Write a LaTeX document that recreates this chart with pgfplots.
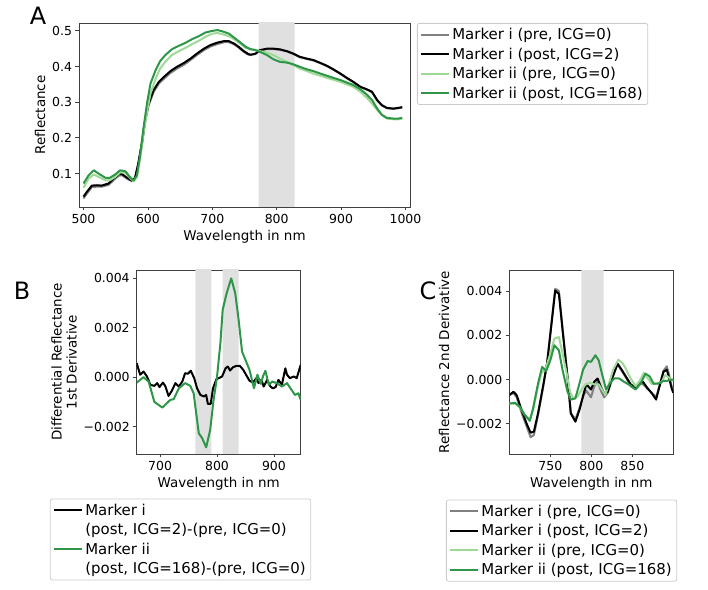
\documentclass[border=0pt]{standalone}
\usepackage{fontspec}
\setmainfont{DejaVu Sans}
\usepackage{pgfplots}
\pgfplotsset{compat=1.18}

\definecolor{lgreen}{RGB}{158,218,150}
\definecolor{dgreen}{RGB}{46,150,72}
\definecolor{bandgray}{RGB}{224,224,224}

\pgfplotsset{
  panel/.style={
    scale only axis,
    axis line style={black!75, line width=0.8bp},
    tick align=outside, tick pos=left,
    major tick length=3.5bp,
    tick style={black!75, line width=0.8bp},
    /pgf/number format/assume math mode=true,
    tick label style={font=\fontsize{12.5}{14}\selectfont},
    label style={font=\fontsize{13.5}{15}\selectfont},
    scaled ticks=false,
    legend style={font=\fontsize{15}{17}\selectfont, draw=black!20,
      rounded corners=2bp, line width=0.8bp, inner sep=3bp,
      cells={anchor=west}, row sep=2.6bp},
    legend image code/.code={\draw[##1, line width=2bp] (0bp,0bp) -- (28bp,0bp);},
    every axis plot/.append style={line width=2bp, line join=round},
  },
}

\begin{document}
\begin{tikzpicture}
\path[use as bounding box] (0,0) rectangle (708bp,590bp);

% ---- A ----
\begin{axis}[panel,
  at={(79bp,383bp)}, anchor=south west, width=331bp, height=184bp,
  xmin=493, xmax=1007, ymin=0.006, ymax=0.522,
  xtick={500,600,700,800,900,1000}, xticklabels={500,600,700,800,900,1000},
  ytick={0.1,0.2,0.3,0.4,0.5}, yticklabels={0.1,0.2,0.3,0.4,0.5},
  xlabel={Wavelength in nm}, ylabel={Reflectance},
  legend style={at={(1.021,1)}, anchor=north west},
]
\addplot[fill=bandgray, draw=none, forget plot] coordinates {(772,0) (828,0) (828,0.6) (772,0.6)} \closedcycle;
\addplot[gray] coordinates {
(500,0.030) (505,0.043) (513,0.062) (521,0.063) (528,0.063) (539,0.068) (547,0.082) (555,0.094) (560,0.095) (567,0.086) (575,0.078) (580,0.086) (585,0.124) (591,0.184) (596,0.248) (601,0.290) (609,0.329) (617,0.352) (625,0.366) (635,0.382) (645,0.394) (656,0.405) (666,0.418) (676,0.432) (687,0.446) (697,0.456) (708,0.463) (718,0.468) (726,0.468) (734,0.462) (741,0.453) (749,0.441) (755,0.434) (759,0.432) (767,0.435) (774,0.445) (785,0.449) (795,0.449) (805,0.447) (816,0.442) (826,0.435) (836,0.426) (847,0.421) (857,0.417) (868,0.409) (878,0.401) (888,0.391) (899,0.379) (909,0.367) (919,0.356) (930,0.342) (940,0.335) (948,0.328) (956,0.305) (963,0.291) (971,0.283) (981,0.281) (989,0.283) (995,0.285)};
\addlegendentry{Marker i (pre, ICG=0)}
\addplot[black] coordinates {
(500,0.035) (505,0.048) (513,0.066) (521,0.067) (528,0.066) (539,0.072) (547,0.086) (555,0.098) (560,0.098) (567,0.089) (575,0.080) (580,0.088) (585,0.128) (591,0.189) (596,0.254) (601,0.296) (609,0.334) (617,0.357) (625,0.371) (635,0.387) (645,0.399) (656,0.410) (666,0.422) (676,0.436) (687,0.450) (697,0.460) (708,0.467) (718,0.471) (726,0.471) (734,0.464) (741,0.455) (749,0.443) (755,0.436) (759,0.433) (767,0.436) (774,0.446) (785,0.450) (795,0.450) (805,0.448) (816,0.443) (826,0.436) (836,0.427) (847,0.422) (857,0.418) (868,0.410) (878,0.402) (888,0.392) (899,0.380) (909,0.368) (919,0.357) (930,0.343) (940,0.336) (948,0.329) (956,0.306) (963,0.292) (971,0.284) (981,0.282) (989,0.284) (995,0.286)};
\addlegendentry{Marker i (post, ICG=2)}
\addplot[lgreen] coordinates {
(500,0.060) (508,0.086) (516,0.097) (523,0.091) (534,0.081) (541,0.081) (549,0.090) (557,0.103) (565,0.102) (573,0.086) (578,0.078) (583,0.090) (588,0.142) (593,0.212) (599,0.278) (604,0.324) (612,0.366) (619,0.394) (627,0.413) (637,0.432) (648,0.443) (658,0.452) (669,0.463) (679,0.472) (689,0.483) (700,0.492) (708,0.494) (715,0.491) (726,0.485) (736,0.474) (746,0.460) (752,0.452) (759,0.448) (767,0.446) (774,0.443) (785,0.439) (795,0.432) (805,0.422) (816,0.413) (826,0.404) (836,0.394) (847,0.387) (857,0.380) (868,0.374) (878,0.368) (888,0.363) (899,0.357) (909,0.350) (919,0.343) (930,0.329) (940,0.312) (948,0.296) (956,0.278) (963,0.264) (971,0.254) (981,0.252) (989,0.252) (995,0.254)};
\addlegendentry{Marker ii (pre, ICG=0)}
\addplot[dgreen] coordinates {
(500,0.072) (508,0.095) (516,0.109) (523,0.100) (534,0.088) (541,0.088) (549,0.097) (557,0.109) (565,0.106) (573,0.088) (578,0.081) (583,0.095) (588,0.151) (593,0.226) (599,0.301) (604,0.352) (612,0.390) (619,0.415) (627,0.432) (637,0.448) (648,0.458) (658,0.466) (669,0.477) (679,0.485) (689,0.495) (700,0.500) (708,0.502) (715,0.499) (726,0.492) (736,0.478) (746,0.464) (752,0.455) (759,0.449) (767,0.446) (774,0.441) (785,0.432) (795,0.420) (805,0.413) (816,0.411) (826,0.406) (836,0.399) (847,0.392) (857,0.387) (868,0.380) (878,0.374) (888,0.368) (899,0.362) (909,0.355) (919,0.348) (930,0.336) (940,0.321) (948,0.306) (956,0.282) (963,0.265) (971,0.256) (981,0.254) (989,0.254) (995,0.256)};
\addlegendentry{Marker ii (post, ICG=168)}
\end{axis}

% ---- B ----
\begin{axis}[panel,
  at={(136.7bp,136bp)}, anchor=south west, width=164bp, height=184bp,
  xmin=659, xmax=947, ymin=-0.00311, ymax=0.00434,
  xtick={700,800,900}, xticklabels={700,800,900},
  ytick={-0.002,0,0.002,0.004}, yticklabels={−0.002,0.000,0.002,0.004},
  xlabel={Wavelength in nm},
  ylabel={Differential Reflectance\\1st Derivative}, ylabel style={align=center},
  legend style={at={(-0.529,-0.242)}, anchor=north west},
]
\addplot[fill=bandgray, draw=none, forget plot] coordinates {(762,-0.01) (790,-0.01) (790,0.01) (762,0.01)} \closedcycle;
\addplot[fill=bandgray, draw=none, forget plot] coordinates {(810,-0.01) (838,-0.01) (838,0.01) (810,0.01)} \closedcycle;
\addplot[black] coordinates {
(659,0.00057) (665,0.00010) (671,0.00023) (677,0.00003) (683,-0.00031) (690,-0.00035) (695,-0.00024) (699,-0.00040) (705,-0.00022) (709,-0.00035) (715,-0.00076) (721,-0.00054) (727,-0.00024) (733,-0.00038) (739,-0.00018) (744,0.00016) (749,0.00014) (754,0.00026) (760,-0.00004) (765,-0.00045) (771,-0.00072) (777,-0.00078) (781,-0.00072) (784,-0.00108) (789,-0.00108) (793,-0.00045) (799,-0.00008) (803,-0.00004) (809,0.00003) (815,0.00036) (819,0.00043) (823,0.00027) (828,0.00040) (834,0.00046) (840,0.00046) (846,0.00030) (851,0.00010) (857,-0.00014) (863,-0.00022) (869,-0.00004) (873,-0.00024) (878,-0.00011) (882,-0.00038) (888,-0.00011) (894,-0.00038) (898,-0.00045) (903,-0.00040) (908,-0.00011) (914,-0.00031) (920,0.00036) (923,0.00010) (928,-0.00004) (935,0.00003) (940,-0.00004) (947,0.00050)};
\addlegendentry{Marker i}
\addlegendimage{empty legend}
\addlegendentry{(post, ICG=2)-(pre, ICG=0)}
\addplot[dgreen] coordinates {
(659,-0.00022) (671,0.00000) (680,-0.00018) (690,-0.00100) (704,-0.00123) (718,-0.00092) (724,-0.00089) (733,-0.00045) (744,-0.00024) (753,-0.00035) (759,-0.00065) (768,-0.00227) (774,-0.00247) (781,-0.00284) (788,-0.00214) (794,-0.00092) (800,0.00000) (806,0.00138) (810,0.00273) (817,0.00340) (825,0.00400) (832,0.00340) (838,0.00232) (844,0.00104) (850,0.00070) (857,0.00030) (865,-0.00045) (871,0.00010) (877,-0.00027) (881,0.00005) (885,0.00026) (891,-0.00031) (897,-0.00018) (905,-0.00024) (914,-0.00038) (923,-0.00024) (929,-0.00045) (937,-0.00072) (943,-0.00065) (947,-0.00092)};
\addlegendentry{Marker ii}
\addlegendimage{empty legend}
\addlegendentry{(post, ICG=168)-(pre, ICG=0)}
\end{axis}

% ---- C ----
\begin{axis}[panel,
  at={(509.3bp,136bp)}, anchor=south west, width=164bp, height=184bp,
  xmin=700, xmax=900, ymin=-0.00336, ymax=0.00495,
  xtick={750,800,850}, xticklabels={750,800,850},
  ytick={-0.002,0,0.002,0.004}, yticklabels={−0.002,0.000,0.002,0.004},
  xlabel={Wavelength in nm}, ylabel={Reflectance 2nd Derivative},
  legend style={at={(-0.386,-0.248)}, anchor=north west},
]
\addplot[fill=bandgray, draw=none, forget plot] coordinates {(788,-0.01) (815,-0.01) (815,0.01) (788,0.01)} \closedcycle;
\addplot[gray] coordinates {
(700,-0.00070) (705,-0.00060) (709,-0.00080) (715,-0.00150) (721,-0.00210) (726,-0.00260) (730,-0.00250) (735,-0.00160) (741,-0.00040) (746,0.00070) (751,0.00240) (756,0.00410) (760.5,0.00400) (765,0.00230) (771,0.00010) (775,-0.00150) (780.6,-0.00180) (785.5,-0.00130) (790.7,-0.00070) (794,-0.00050) (799.6,-0.00080) (803.6,-0.00030) (807.7,-0.00010) (811.7,-0.00050) (815.7,-0.00080) (820,-0.00060) (826,0.00010) (832,0.00070) (837,0.00040) (842,0.00010) (848,-0.00030) (853,-0.00040) (858,-0.00020) (863,-0.00020) (868,-0.00040) (874,-0.00060) (879,-0.00080) (883,-0.00030) (888,0.00040) (892,0.00060) (895,0.00020) (898,-0.00030) (900,-0.00050)};
\addlegendentry{Marker i (pre, ICG=0)}
\addplot[black] coordinates {
(700,-0.00070) (705,-0.00055) (709,-0.00070) (715,-0.00138) (721,-0.00198) (726,-0.00240) (730,-0.00235) (735,-0.00153) (741,-0.00033) (746,0.00072) (751,0.00237) (756,0.00402) (760.5,0.00387) (765,0.00222) (771,0.00012) (775,-0.00153) (780.6,-0.00190) (785.5,-0.00138) (790.7,-0.00063) (794,-0.00021) (799.6,-0.00045) (803.6,-0.00010) (807.7,0.00005) (811.7,-0.00033) (815.7,-0.00063) (820,-0.00055) (826,0.00012) (832,0.00072) (837,0.00045) (842,0.00015) (848,-0.00021) (853,-0.00036) (858,-0.00018) (863,-0.00010) (868,-0.00036) (874,-0.00063) (879,-0.00090) (883,-0.00033) (888,0.00035) (892,0.00045) (895,0.00005) (898,-0.00040) (900,-0.00060)};
\addlegendentry{Marker i (post, ICG=2)}
\addplot[lgreen] coordinates {
(700,-0.00108) (707,-0.00108) (713,-0.00126) (719,-0.00160) (725,-0.00180) (729,-0.00138) (734,-0.00048) (739,0.00027) (745,0.00057) (750,0.00117) (755,0.00185) (760.5,0.00192) (765,0.00117) (770,0.00027) (774,-0.00055) (778,-0.00085) (783.5,-0.00075) (788.7,-0.00040) (793.5,-0.00021) (798,-0.00015) (803.6,-0.00021) (809,-0.00021) (813,-0.00045) (817,-0.00070) (821,-0.00025) (826.6,0.00045) (833,0.00090) (838,0.00075) (842.7,0.00045) (848,0.00005) (854,-0.00030) (859,-0.00006) (864,0.00030) (869,0.00005) (874,-0.00021) (880,-0.00018) (886,-0.00010) (890,0.00020) (894,0.00012) (898,-0.00003) (900,-0.00005)};
\addlegendentry{Marker ii (pre, ICG=0)}
\addplot[dgreen] coordinates {
(700,-0.00108) (707,-0.00105) (713,-0.00123) (719,-0.00160) (725,-0.00186) (729,-0.00130) (735,-0.00018) (740,0.00057) (745,0.00039) (750,0.00087) (755,0.00155) (760.5,0.00132) (765,0.00042) (771,-0.00055) (775,-0.00090) (780.6,-0.00085) (785.5,-0.00018) (790,0.00045) (795.6,0.00084) (799.6,0.00080) (805,0.00110) (809,0.00087) (813,0.00027) (818,-0.00045) (822.6,-0.00018) (827.8,0.00005) (834,0.00005) (840,-0.00010) (847,-0.00025) (854,-0.00045) (860,-0.00018) (866,0.00027) (871,0.00015) (876,-0.00018) (882,-0.00018) (888,-0.00006) (892,-0.00006) (898,0.00000) (900,0.00000)};
\addlegendentry{Marker ii (post, ICG=168)}
\end{axis}

\node[font=\fontsize{24}{24}\selectfont] at (38bp,574bp) {A};
\node[font=\fontsize{24}{24}\selectfont] at (22bp,299bp) {B};
\node[font=\fontsize{24}{24}\selectfont] at (428bp,299bp) {C};
\end{tikzpicture}
\end{document}
